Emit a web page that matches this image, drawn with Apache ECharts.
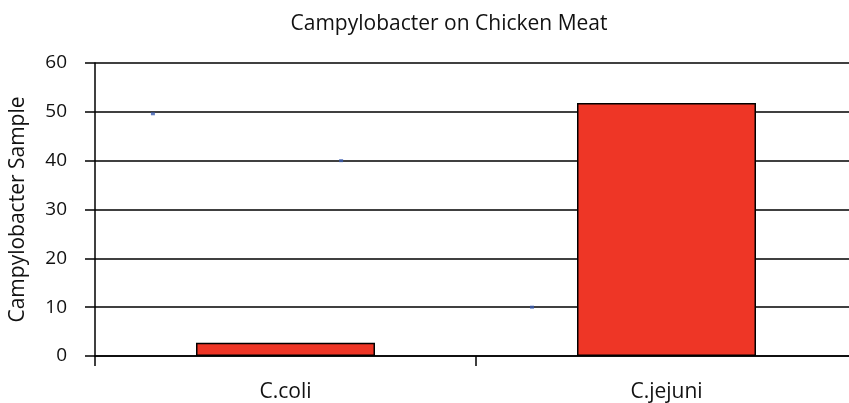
<!DOCTYPE html>
<html>
<head>
<meta charset="utf-8">
<script src="https://cdn.jsdelivr.net/npm/echarts@6/dist/echarts.min.js"></script>
<style>html,body{margin:0;padding:0;background:#fff}#c{width:849px;height:403px}</style>
</head>
<body>
<div id="c"></div>
<script>
const categories = ['C.coli', 'C.jejuni'];
const sampleValues = [2.7, 51.8];
const yTicks = [0, 10, 20, 30, 40, 50, 60];
// small stray blue marks seen in the reference: [x position in category units, value]
const strayPoints = [[0.152, 49.6], [0.646, 40], [1.147, 10]];

const font = 'Open Sans';
const chart = echarts.init(document.getElementById('c'));
chart.setOption({
  animation: false,
  title: {
    text: 'Campylobacter on Chicken Meat',
    left: 444, top: 9, textAlign: 'center',
    textStyle: { fontFamily: font, fontSize: 21, fontWeight: 'normal', color: '#111' }
  },
  grid: { left: 95, top: 63, width: 762, height: 293, outerBoundsMode: 'none' },
  xAxis: [{
    type: 'category',
    data: categories,
    axisLine: { lineStyle: { color: '#000', width: 1.5 } },
    axisTick: { show: true, length: 10, lineStyle: { color: '#000', width: 1.5 } },
    axisLabel: { margin: 26, fontFamily: font, fontSize: 21, color: '#111' }
  }, {
    type: 'value', min: 0, max: 2, show: false
  }],
  yAxis: {
    type: 'value', min: yTicks[0], max: yTicks[yTicks.length - 1], interval: 10,
    name: 'Campylobacter Sample', nameLocation: 'middle', nameGap: 66,
    nameTextStyle: { fontFamily: font, fontSize: 21, color: '#111' },
    axisLine: { show: true, lineStyle: { color: '#000', width: 1.5 } },
    axisTick: { show: true, length: 10, lineStyle: { color: '#000', width: 1.5 } },
    axisLabel: { margin: 28, fontFamily: font, fontSize: 19, color: '#111' },
    splitLine: { lineStyle: { color: '#000', width: 1.5 } }
  },
  series: [{
    type: 'bar',
    data: sampleValues,
    barWidth: 179,
    itemStyle: { color: '#EE3626', borderColor: '#000', borderWidth: 1.5 }
  }, {
    type: 'scatter',
    xAxisIndex: 1,
    data: strayPoints,
    symbol: 'rect',
    symbolSize: [4, 3],
    itemStyle: { color: '#3a5bb0' },
    z: 5
  }]
});
</script>
</body>
</html>
